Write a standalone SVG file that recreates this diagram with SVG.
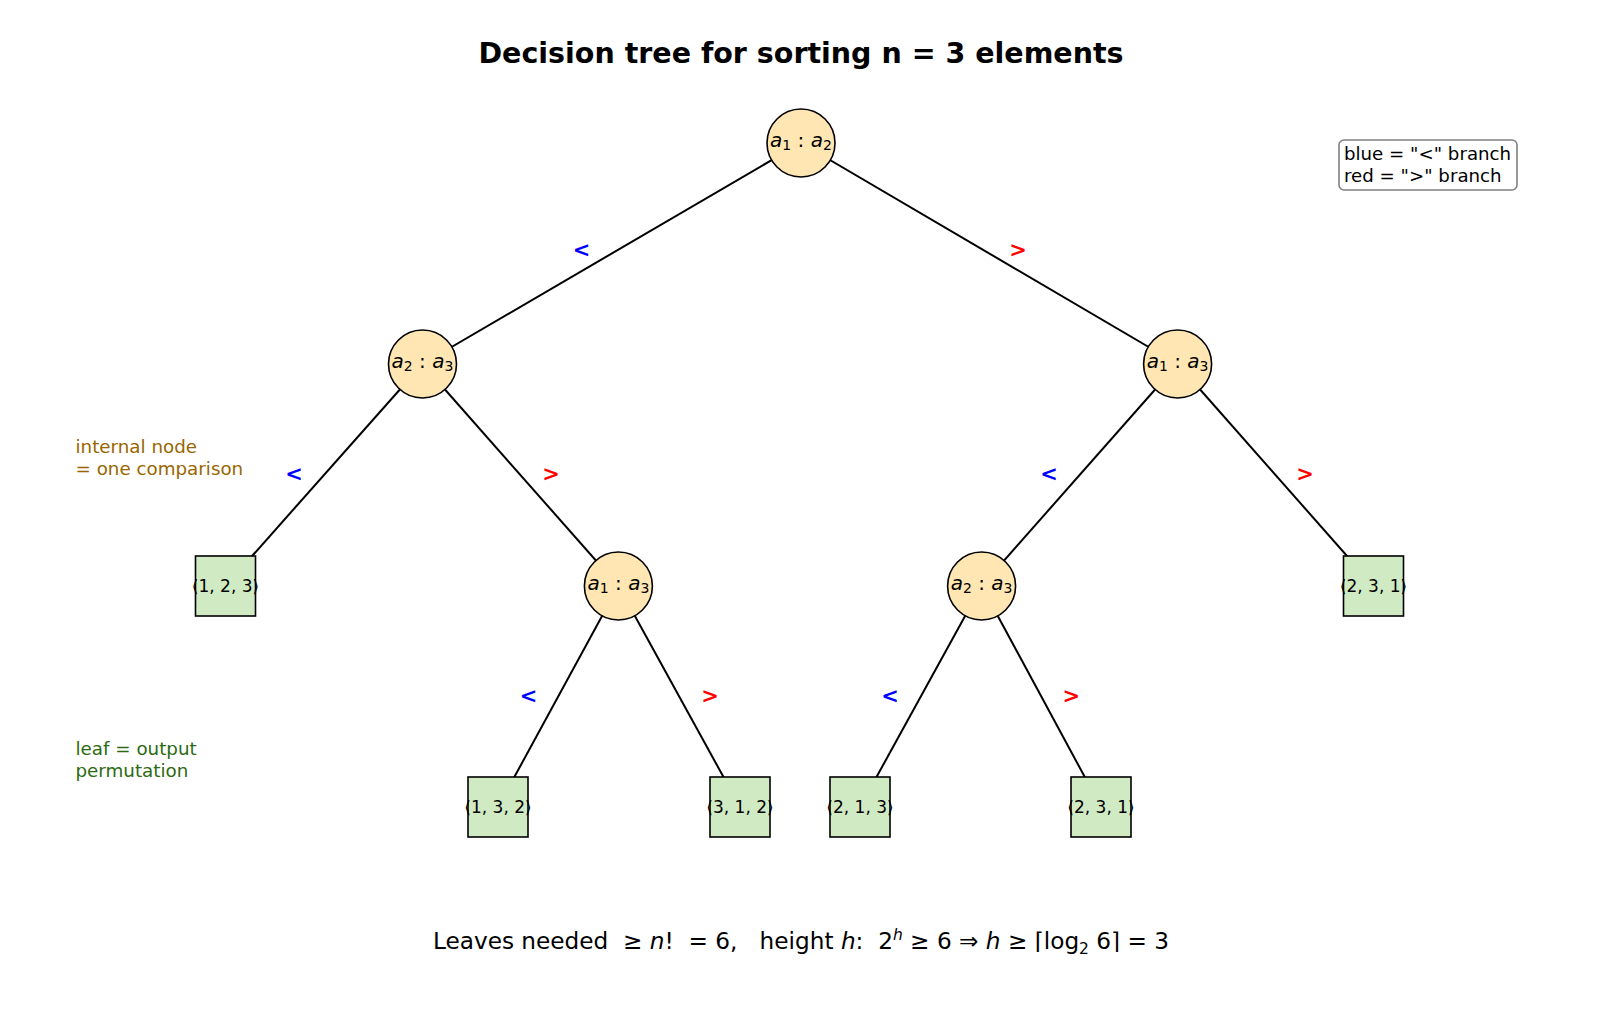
<svg xmlns="http://www.w3.org/2000/svg" width="1600" height="1013" viewBox="0 0 1600 1013">
<style>
text{font-family:"DejaVu Sans",sans-serif;fill:#000}
.title{font-size:28.5px;font-weight:bold;text-anchor:middle}
.edge{stroke:#000;stroke-width:2;fill:none}
.inode{fill:#ffe6b3;stroke:#000;stroke-width:1.6}
.leaf{fill:#d0eac4;stroke:#000;stroke-width:1.6}
.nl{font-size:20px;text-anchor:middle;dominant-baseline:central}
.ll{font-size:17px;text-anchor:middle;dominant-baseline:central}
.lt{font-size:21px;font-weight:bold;text-anchor:middle;dominant-baseline:central}
.lt.b{fill:#0000ff}
.lt.r{fill:#ff0000}
.note{font-size:18.3px}
.leg{font-size:18.2px}
.foot{font-size:23.2px;text-anchor:middle;white-space:pre}
</style>
<rect width="1600" height="1013" fill="#fff"/>
<text class="title" x="801" y="63">Decision tree for sorting n = 3 elements</text>
<g id="connectors">
<line class="edge" x1="801" y1="143" x2="422.5" y2="364"/>
<line class="edge" x1="801" y1="143" x2="1177.6" y2="364"/>
<line class="edge" x1="422.5" y1="364" x2="225.5" y2="586"/>
<line class="edge" x1="422.5" y1="364" x2="618.4" y2="586"/>
<line class="edge" x1="1177.6" y1="364" x2="981.6" y2="586"/>
<line class="edge" x1="1177.6" y1="364" x2="1373.5" y2="586"/>
<line class="edge" x1="618.4" y1="586" x2="498" y2="807"/>
<line class="edge" x1="618.4" y1="586" x2="740" y2="807"/>
<line class="edge" x1="981.6" y1="586" x2="860" y2="807"/>
<line class="edge" x1="981.6" y1="586" x2="1101" y2="807"/>
<text class="lt b" x="581.6" y="250">&lt;</text>
<text class="lt r" x="1018" y="250">&gt;</text>
<text class="lt b" x="294" y="473.5">&lt;</text>
<text class="lt r" x="551" y="473.5">&gt;</text>
<text class="lt b" x="1049" y="473.5">&lt;</text>
<text class="lt r" x="1305" y="473.5">&gt;</text>
<text class="lt b" x="528.6" y="696">&lt;</text>
<text class="lt r" x="710" y="696">&gt;</text>
<text class="lt b" x="890" y="696">&lt;</text>
<text class="lt r" x="1071.4" y="696">&gt;</text>
</g>
<g id="n-root"><circle class="inode" cx="801" cy="143" r="34"/><text class="nl" x="801" y="140"><tspan font-style="italic">a</tspan><tspan font-size="14" dy="5">1</tspan><tspan dy="-5"> : </tspan><tspan font-style="italic">a</tspan><tspan font-size="14" dy="5">2</tspan></text></g>
<g id="n-l"><circle class="inode" cx="422.5" cy="364" r="34"/><text class="nl" x="422.5" y="361"><tspan font-style="italic">a</tspan><tspan font-size="14" dy="5">2</tspan><tspan dy="-5"> : </tspan><tspan font-style="italic">a</tspan><tspan font-size="14" dy="5">3</tspan></text></g>
<g id="n-r"><circle class="inode" cx="1177.6" cy="364" r="34"/><text class="nl" x="1177.6" y="361"><tspan font-style="italic">a</tspan><tspan font-size="14" dy="5">1</tspan><tspan dy="-5"> : </tspan><tspan font-style="italic">a</tspan><tspan font-size="14" dy="5">3</tspan></text></g>
<g id="n-lr"><circle class="inode" cx="618.4" cy="586" r="34"/><text class="nl" x="618.4" y="583"><tspan font-style="italic">a</tspan><tspan font-size="14" dy="5">1</tspan><tspan dy="-5"> : </tspan><tspan font-style="italic">a</tspan><tspan font-size="14" dy="5">3</tspan></text></g>
<g id="n-rl"><circle class="inode" cx="981.6" cy="586" r="34"/><text class="nl" x="981.6" y="583"><tspan font-style="italic">a</tspan><tspan font-size="14" dy="5">2</tspan><tspan dy="-5"> : </tspan><tspan font-style="italic">a</tspan><tspan font-size="14" dy="5">3</tspan></text></g>
<g id="leaf-123"><rect class="leaf" x="195.5" y="556" width="60" height="60"/><text class="ll" x="225.5" y="586">⟨1, 2, 3⟩</text></g>
<g id="leaf-231a"><rect class="leaf" x="1343.5" y="556" width="60" height="60"/><text class="ll" x="1373.5" y="586">⟨2, 3, 1⟩</text></g>
<g id="leaf-132"><rect class="leaf" x="468" y="777" width="60" height="60"/><text class="ll" x="498" y="807">⟨1, 3, 2⟩</text></g>
<g id="leaf-312"><rect class="leaf" x="710" y="777" width="60" height="60"/><text class="ll" x="740" y="807">⟨3, 1, 2⟩</text></g>
<g id="leaf-213"><rect class="leaf" x="830" y="777" width="60" height="60"/><text class="ll" x="860" y="807">⟨2, 1, 3⟩</text></g>
<g id="leaf-231b"><rect class="leaf" x="1071" y="777" width="60" height="60"/><text class="ll" x="1101" y="807">⟨2, 3, 1⟩</text></g>
<g id="legend"><rect x="1339" y="140" width="178" height="50" rx="5" fill="#fff" stroke="#808080" stroke-width="1.6"/><text class="leg" x="1344" y="160">blue = "&lt;" branch</text><text class="leg" x="1344" y="182">red = "&gt;" branch</text></g>
<g id="note-internal"><text class="note" x="75.5" y="453" style="fill:#996600">internal node</text><text class="note" x="75.5" y="475" style="fill:#996600">= one comparison</text></g>
<g id="note-leaf"><text class="note" x="75.5" y="755" style="fill:#2d6a12">leaf = output</text><text class="note" x="75.5" y="777" style="fill:#2d6a12">permutation</text></g>
<text class="foot" x="801" y="949">Leaves needed  ≥ <tspan font-style="italic">n</tspan>!  = 6,   height <tspan font-style="italic">h</tspan>:  2<tspan font-size="15.5" dy="-9" font-style="italic">h</tspan><tspan dy="9"> ≥ 6 ⇒ </tspan><tspan font-style="italic">h</tspan> ≥ ⌈log<tspan font-size="15.5" dy="5">2</tspan><tspan dy="-5"> 6⌉ = 3</tspan></text>
</svg>
